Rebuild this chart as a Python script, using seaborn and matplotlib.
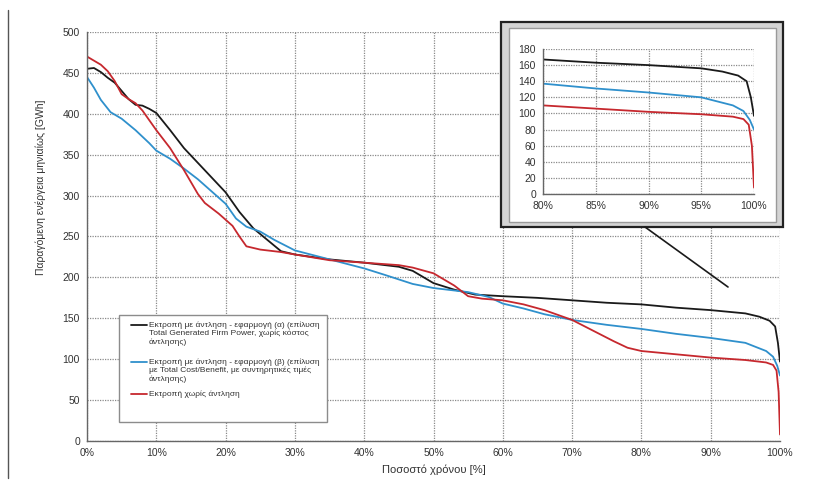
import pandas as pd
import matplotlib
matplotlib.use('Agg')
import matplotlib.pyplot as plt
from matplotlib.patches import Rectangle
from matplotlib.lines import Line2D
from matplotlib.ticker import FuncFormatter, MultipleLocator
import seaborn as sns

sns.set_style('white')
plt.rcParams['font.family'] = ['Liberation Sans', 'DejaVu Sans']

# duration curves, x = percent of time, y = monthly energy [GWh]
black_x = [0, 1, 2, 3, 4, 5, 6, 7, 8, 9, 10, 12, 14, 16, 18, 20, 22, 24, 26, 28, 30,
           35, 40, 45, 47, 50, 53, 56, 60, 65, 70, 75, 80, 85, 90, 95, 97, 98.5,
           99.3, 99.7, 100]
black_y = [455, 456, 451, 444, 438, 428, 418, 411, 410, 406, 401, 380, 358, 340, 322,
           304, 280, 260, 246, 232, 228, 222, 218, 213, 208, 193, 185, 179, 177, 175,
           172, 169, 167, 163, 160, 156, 152, 147, 140, 120, 97]

blue_x = [0, 1, 2, 3.4, 5, 7, 9, 10, 12, 14, 16, 18, 20, 21.5, 23, 25, 27, 30, 35, 40,
          43, 47, 50, 55, 58, 60, 63, 66, 70, 75, 80, 85, 90, 95, 98, 99, 99.6, 100]
blue_y = [445, 432, 417, 402, 394, 380, 364, 355, 345, 333, 320, 305, 290, 272, 262,
          256, 246, 233, 222, 211, 203, 192, 187, 182, 176, 168, 162, 155, 148, 142,
          137, 131, 126, 120, 110, 103, 92, 80]

red_x = [0, 1, 2, 3, 4, 5, 6, 7, 8, 9, 10, 12, 14, 16, 17, 19, 21, 22, 23, 25, 28, 30,
         35, 40, 45, 47, 50, 53, 55, 57, 60, 63, 66, 70, 73, 76, 78, 80, 85, 90, 95,
         98, 99, 99.5, 99.8, 100]
red_y = [470, 465, 460, 452, 440, 424, 418, 413, 404, 392, 380, 358, 331, 302, 291,
         278, 263, 250, 238, 234, 231, 228, 221, 218, 215, 212, 205, 190, 177, 174,
         172, 167, 160, 148, 135, 122, 114, 110, 106, 102, 99, 96, 93, 86, 60, 8]

series_names = ['a', 'b', 'c']
legend_labels = [
    ['Εκτροπή με άντληση - εφαρμογή (α) (επίλυση',
     'Total Generated Firm Power, χωρίς κόστος',
     'άντλησης)'],
    ['Εκτροπή με άντληση - εφαρμογή (β) (επίλυση',
     'με Total Cost/Benefit, με συντηρητικές τιμές',
     'άντλησης)'],
    ['Εκτροπή χωρίς άντληση'],
]
colors = {'a': '#1a1a1a', 'b': '#2f90cc', 'c': '#c6282e'}

df = pd.concat([
    pd.DataFrame({'x': black_x, 'y': black_y, 'series': 'a'}),
    pd.DataFrame({'x': blue_x, 'y': blue_y, 'series': 'b'}),
    pd.DataFrame({'x': red_x, 'y': red_y, 'series': 'c'}),
], ignore_index=True)

W, H = 821, 488
fig = plt.figure(figsize=(W / 100, H / 100), dpi=100)
fig.patch.set_facecolor('white')


def px_box(x0, y0, x1, y1):
    # pixel box (top-left origin) -> figure fraction rect
    return [x0 / W, 1 - y1 / H, (x1 - x0) / W, (y1 - y0) / H]


def style_axes(ax):
    for s in ['top', 'right']:
        ax.spines[s].set_visible(False)
    for s in ['left', 'bottom']:
        ax.spines[s].set_color('#666666')
        ax.spines[s].set_linewidth(1.0)
    ax.grid(True, color='#8a8a8a', linestyle=(0, (1, 1)), linewidth=0.9)
    ax.set_axisbelow(True)
    ax.tick_params(direction='out', length=3, width=0.8, color='#666666',
                   labelsize=7.5, labelcolor='#333333', pad=2)
    ax.xaxis.set_major_formatter(FuncFormatter(lambda v, p: f'{v:.0f}%'))
    ax.set_xlabel('')
    ax.set_ylabel('')


# main chart
ax = fig.add_axes(px_box(87, 32, 780, 441))
sns.lineplot(data=df, x='x', y='y', hue='series', palette=colors, estimator=None,
             linewidth=1.3, legend=False, ax=ax)
ax.set_xlim(0, 100)
ax.set_ylim(0, 500)
ax.xaxis.set_major_locator(MultipleLocator(10))
ax.yaxis.set_major_locator(MultipleLocator(50))
style_axes(ax)
ax.set_xlabel('Ποσοστό χρόνου [%]', fontsize=8, color='#333333')
ax.xaxis.set_label_coords(0.5, (441 - 470) / 409)
ax.xaxis.label.set_verticalalignment('center')
ax.set_ylabel('Παραγόμενη ενέργεια μηνιαίως [GWh]', fontsize=7.5, color='#333333')
ax.yaxis.set_label_coords((41 - 87) / 693, (441 - 187) / 409)
ax.yaxis.label.set_verticalalignment('center')


# legend drawn by hand so the handles sit on the first label line
def ax_pt(px, py):
    return (px - 87) / 693, (441 - py) / 409


lx0, ly1 = ax_pt(119, 315)
lx1, ly0 = ax_pt(327, 422)
ax.add_patch(Rectangle((lx0, ly0), lx1 - lx0, ly1 - ly0, transform=ax.transAxes,
                       facecolor='white', edgecolor='#8c8c8c', linewidth=1.0, zorder=5))
entry_y = [325, 362, 394]
for name, lines, ey in zip(series_names, legend_labels, entry_y):
    hx0, hy = ax_pt(131, ey)
    hx1, _ = ax_pt(147, ey)
    ax.add_line(Line2D([hx0, hx1], [hy, hy], transform=ax.transAxes,
                       color=colors[name], linewidth=1.3, zorder=6))
    for i, line in enumerate(lines):
        tx, ty = ax_pt(149, ey + i * 8.5)
        ax.text(tx, ty, line, transform=ax.transAxes, fontsize=6, color='#333333',
                ha='left', va='center', zorder=6)

# page border artifact on the left
fig.add_artist(Line2D([8 / W, 8 / W], [1 - 478 / H, 1 - 10 / H],
                      transform=fig.transFigure, color='#555555', linewidth=1.0))

# inset frame
o = px_box(501, 22, 783, 227)
fig.add_artist(Rectangle((o[0], o[1]), o[2], o[3], transform=fig.transFigure,
                         facecolor='#d4d4d4', edgecolor='#222222', linewidth=1.6,
                         zorder=2))
i_ = px_box(509, 28, 776, 222)
fig.add_artist(Rectangle((i_[0], i_[1]), i_[2], i_[3], transform=fig.transFigure,
                         facecolor='white', edgecolor='#9a9a9a', linewidth=1.0,
                         zorder=2.1))
fig.add_artist(Line2D([645 / W, 728 / W], [1 - 227 / H, 1 - 287 / H],
                      transform=fig.transFigure, color='#1a1a1a', linewidth=1.2,
                      zorder=2))

# zoomed inset 80-100 %
ax2 = fig.add_axes(px_box(543, 49, 754, 194))
ax2.set_zorder(3)
sns.lineplot(data=df, x='x', y='y', hue='series', palette=colors, estimator=None,
             linewidth=1.3, legend=False, ax=ax2)
ax2.set_xlim(80, 100)
ax2.set_ylim(0, 180)
ax2.xaxis.set_major_locator(MultipleLocator(5))
ax2.yaxis.set_major_locator(MultipleLocator(20))
style_axes(ax2)
ax2.patch.set_alpha(0)

fig.savefig('out.png', dpi=100)
